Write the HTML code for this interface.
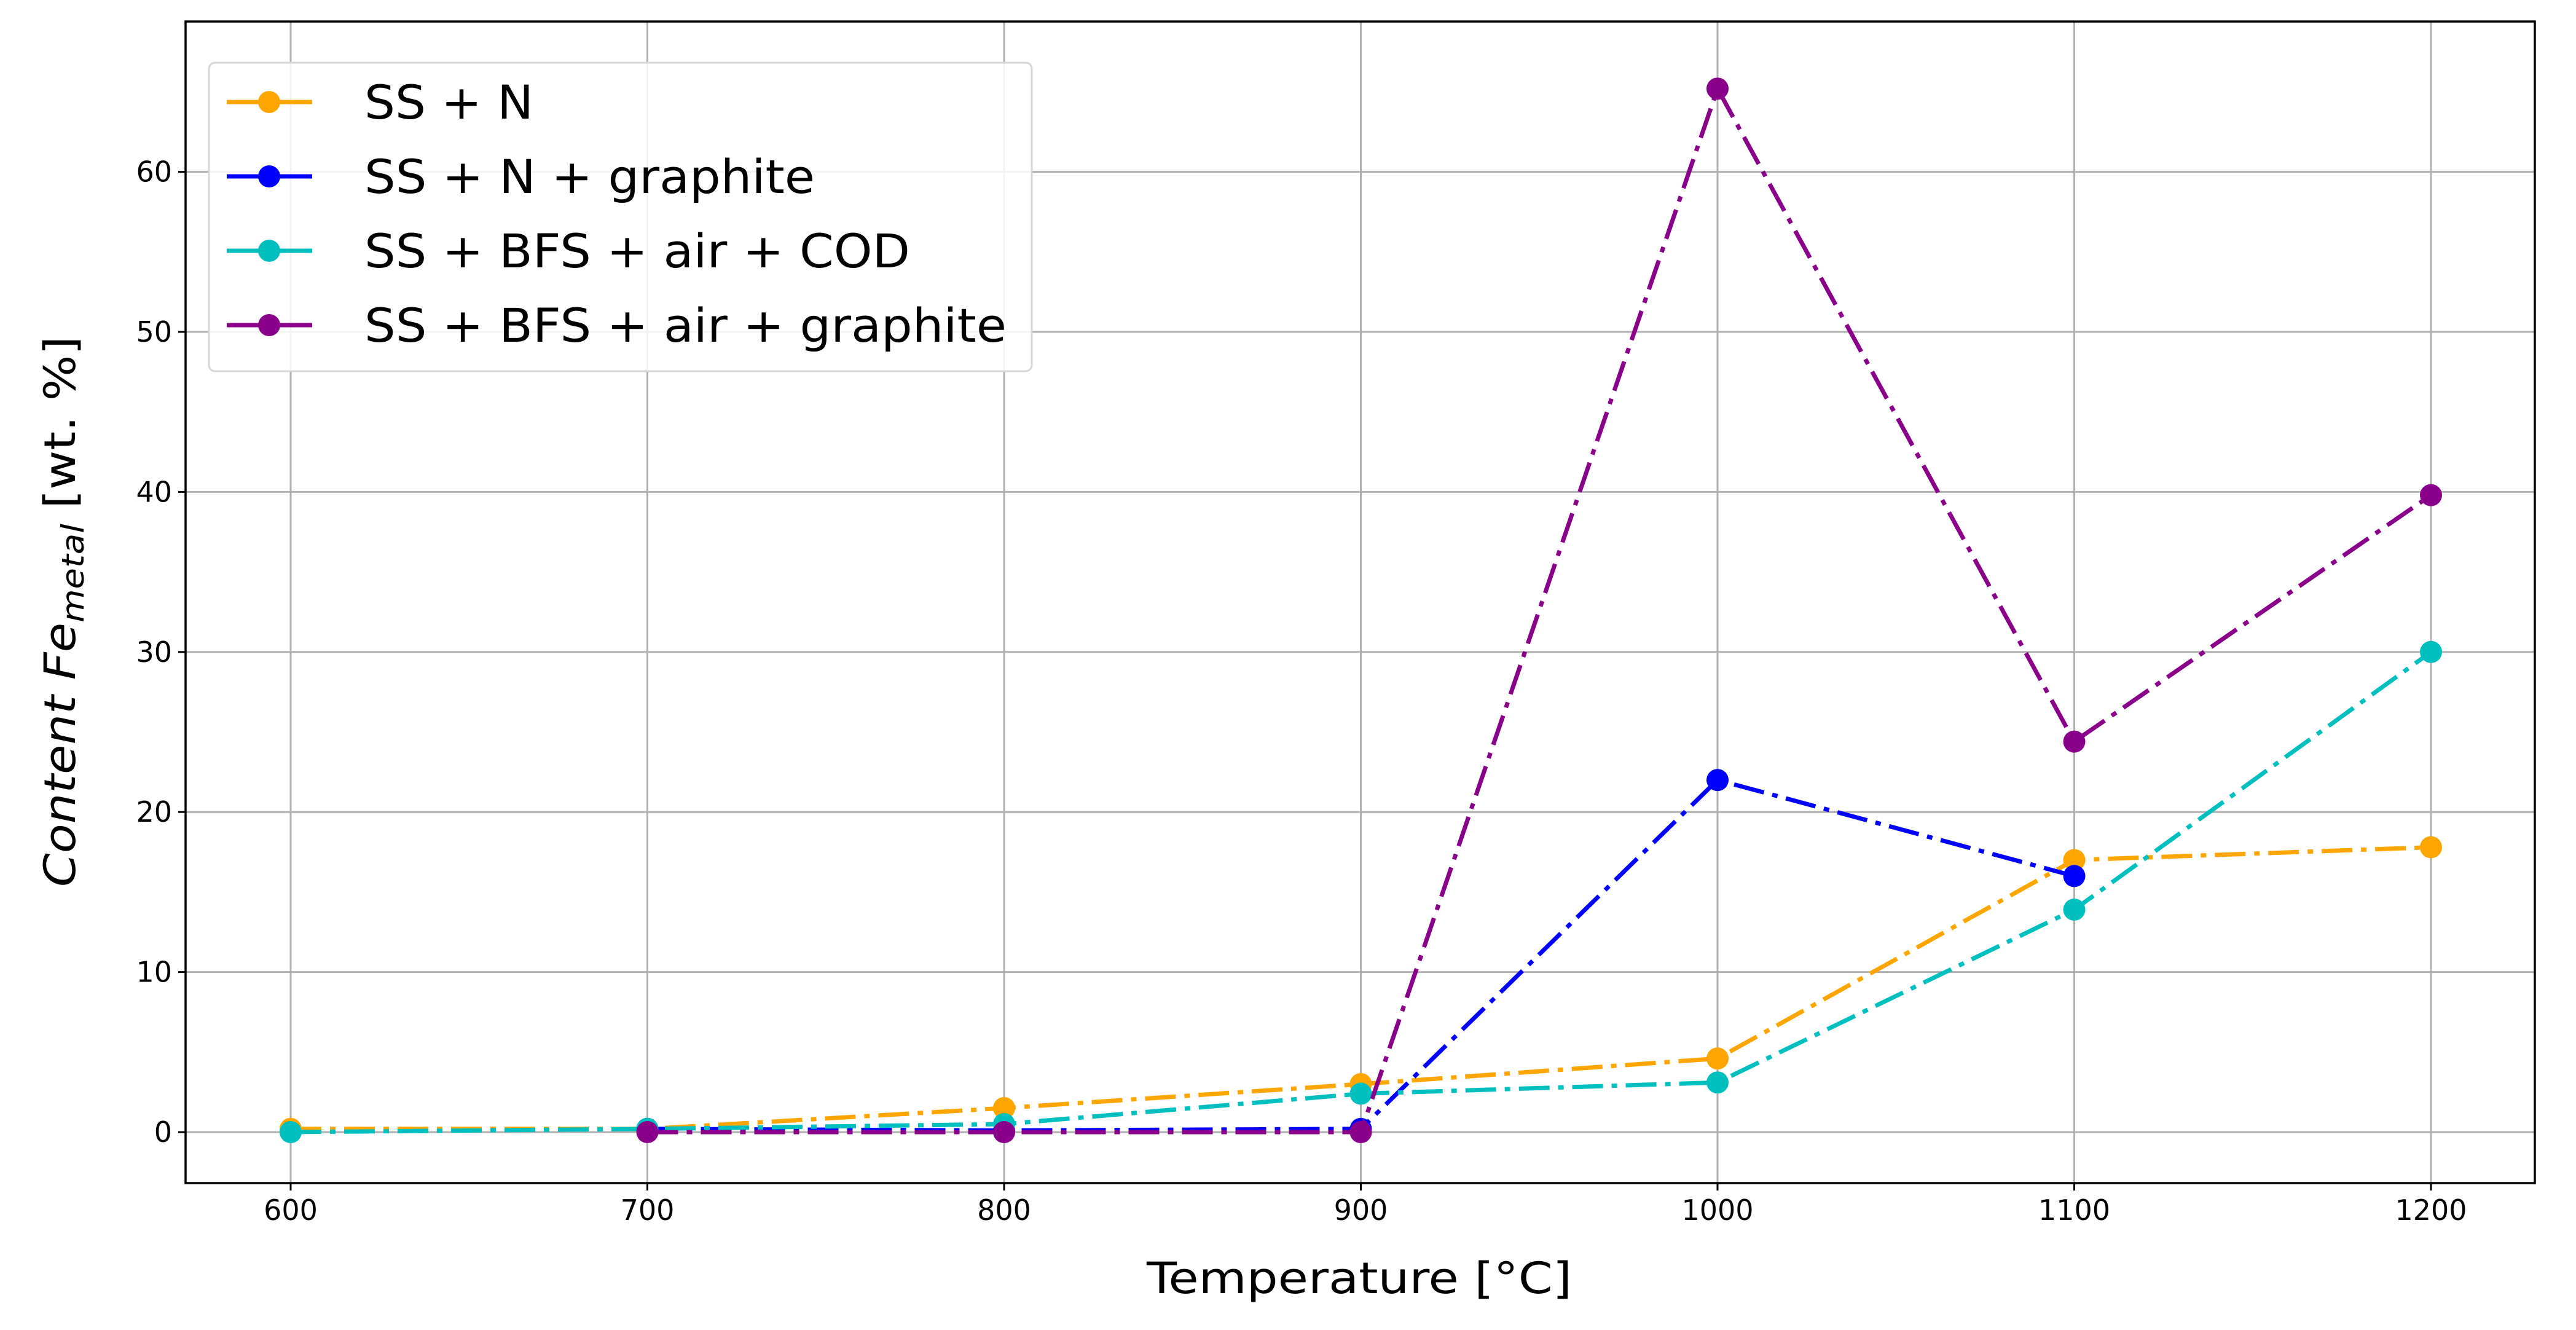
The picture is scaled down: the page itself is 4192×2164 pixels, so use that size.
<!DOCTYPE html>
<html><head><meta charset="utf-8"><style>
html,body{margin:0;padding:0;background:#fff}
svg{display:block}
text{font-family:"DejaVu Sans","Liberation Sans",sans-serif;fill:#000}
</style></head><body>
<svg id="chart" width="4192" height="2164" viewBox="0 0 4192 2164" xmlns="http://www.w3.org/2000/svg">
<g id="grid"></g>
<g id="series"></g>
<rect x="302" y="35" width="3823" height="1890" fill="none" stroke="#000" stroke-width="3.5"/>
<g id="ticks"></g>
<text x="1866" y="2104" font-size="70" textLength="692" lengthAdjust="spacingAndGlyphs">Temperature [°C]</text>
<text transform="translate(122,995) rotate(-90)" font-size="70" text-anchor="middle" textLength="896" lengthAdjust="spacingAndGlyphs"><tspan font-style="italic">Content Fe</tspan><tspan font-style="italic" font-size="50" dy="14">metal</tspan><tspan dy="-14"> [wt. %]</tspan></text>
<g id="legend"></g>
</svg>
<script>
const xCats = [600, 700, 800, 900, 1000, 1100, 1200];
const yTicks = [0, 10, 20, 30, 40, 50, 60];
const seriesNames = ["SS + N", "SS + N + graphite", "SS + BFS + air + COD", "SS + BFS + air + graphite"];
const seriesColors = ["#ffa500", "#0000ff", "#00bfbf", "#8b008b"];
const ssN = [0.2, 0.2, 1.5, 3.0, 4.6, 17.0, 17.8];
const ssNGraphite = [null, 0.2, 0.1, 0.2, 22.0, 16.0, null];
const ssBfsCod = [0.0, 0.2, 0.5, 2.4, 3.1, 13.9, 30.0];
const ssBfsGraphite = [null, 0.0, 0.0, 0.0, 65.2, 24.4, 39.8];
const allSeries = [ssN, ssNGraphite, ssBfsCod, ssBfsGraphite];
const legendWidths = [275, 733, 888, 1045];

const NS = "http://www.w3.org/2000/svg";
const L = 302, R = 4125, T = 35, B = 1925;
const xs = v => 473 + (v - 600) * 5.805;
const ys = v => 1842 - v * 26.04;
function mk(tag, attrs, parent) {
  const e = document.createElementNS(NS, tag);
  for (const k in attrs) e.setAttribute(k, attrs[k]);
  parent.appendChild(e); return e;
}
const grid = document.getElementById('grid');
const ticks = document.getElementById('ticks');
xCats.forEach(v => {
  const g = mk('line', {x1: xs(v), x2: xs(v), y1: T, y2: B, stroke: '#b0b0b0', 'stroke-width': 3}, grid);
  
  
  const t = mk('line', {x1: xs(v), x2: xs(v), y1: B, y2: B + 12, stroke: '#000', 'stroke-width': 3}, ticks);
  
  
  const l = mk('text', {x: xs(v), y: B + 60, 'font-size': 46, 'text-anchor': 'middle'}, ticks);
  l.textContent = v;
  
  
});
yTicks.forEach(v => {
  const g = mk('line', {x1: L, x2: R, y1: ys(v), y2: ys(v), stroke: '#b0b0b0', 'stroke-width': 3}, grid);
  
  
  const t = mk('line', {x1: L - 12, x2: L, y1: ys(v), y2: ys(v), stroke: '#000', 'stroke-width': 3}, ticks);
  
  
  const l = mk('text', {x: L - 22, y: ys(v) + 16, 'font-size': 46, 'text-anchor': 'end'}, ticks);
  l.textContent = v;
  
  
});
const sg = document.getElementById('series');
allSeries.forEach((s, i) => {
  const pts = [];
  s.forEach((v, j) => { if (v !== null) pts.push([xs(xCats[j]), ys(v)]); });
  const p = mk('polyline', {points: pts.map(p => p.join(',')).join(' '), fill: 'none', stroke: seriesColors[i], 'stroke-width': 7, 'stroke-dasharray': '50 14 9 14'}, sg);
  
  
  pts.forEach(pt => {
    const c = mk('circle', {cx: pt[0], cy: pt[1], r: 18, fill: seriesColors[i]}, sg);
    
    
  });
});
const lg = document.getElementById('legend');
const box = mk('rect', {x: 340, y: 102, width: 1339, height: 502, rx: 10, fill: 'rgba(255,255,255,0.85)', stroke: '#d6d6d6', 'stroke-width': 3}, lg);


seriesNames.forEach((n, i) => {
  const cy = 166 + i * 121;
  const ln = mk('line', {x1: 369, x2: 508, y1: cy, y2: cy, stroke: seriesColors[i], 'stroke-width': 7}, lg);
  
  
  const c = mk('circle', {cx: 438, cy: cy, r: 18, fill: seriesColors[i]}, lg);
  
  
  const t = mk('text', {x: 593, y: cy + 27, 'font-size': 76, textLength: legendWidths[i], lengthAdjust: 'spacingAndGlyphs'}, lg);
  t.textContent = n;
  
  
});
</script>
</body></html>
